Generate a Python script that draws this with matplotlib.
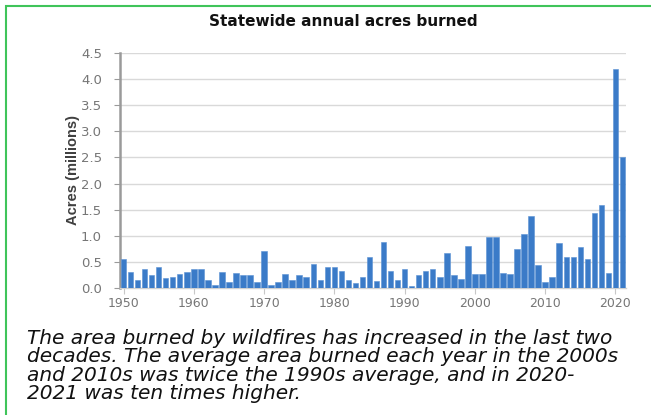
import numpy as np
import matplotlib
matplotlib.use("Agg")
import matplotlib.pyplot as plt
from matplotlib.patches import Rectangle

# annual acres burned (millions)
years = np.arange(1950, 2022)
acres = [0.55, 0.31, 0.15, 0.35, 0.24, 0.40, 0.19, 0.20, 0.26, 0.30,
         0.35, 0.36, 0.15, 0.05, 0.30, 0.10, 0.29, 0.24, 0.24, 0.10,
         0.70, 0.06, 0.10, 0.26, 0.15, 0.24, 0.20, 0.46, 0.15, 0.39,
         0.39, 0.32, 0.15, 0.09, 0.20, 0.58, 0.12, 0.88, 0.32, 0.15,
         0.36, 0.04, 0.24, 0.32, 0.35, 0.20, 0.66, 0.24, 0.16, 0.80,
         0.26, 0.26, 0.97, 0.97, 0.29, 0.26, 0.74, 1.04, 1.38, 0.44,
         0.11, 0.20, 0.85, 0.58, 0.58, 0.78, 0.55, 1.43, 1.59, 0.29,
         4.20, 2.51]
yticks = [0.0, 0.5, 1.0, 1.5, 2.0, 2.5, 3.0, 3.5, 4.0, 4.5]
xticks = [1950, 1960, 1970, 1980, 1990, 2000, 2010, 2020]

title = "Statewide annual acres burned"
ylabel = "Acres (millions)"
caption = ("The area burned by wildfires has increased in the last two\n"
           "decades. The average area burned each year in the 2000s\n"
           "and 2010s was twice the 1990s average, and in 2020-\n"
           "2021 was ten times higher.")

W, H = 651, 415
fig = plt.figure(figsize=(W / 100, H / 100), dpi=100)

# green frame around the panel
fig.patches.append(Rectangle((6 / W, -0.05), 1.2, 1 - 6 / H + 0.05,
                             transform=fig.transFigure, fill=False,
                             edgecolor="#3fc45a", linewidth=1.5))

ax = fig.add_axes([120 / W, 1 - 287.7 / H, 506 / W, 234.4 / H])
ax.bar(years, acres, width=0.78, color="#3b7bc8", edgecolor="#5a92d4", linewidth=0.4, zorder=3)

ax.set_xlim(1949.5, 2021.5)
ax.set_ylim(0, 4.5)
ax.set_yticks(yticks)
ax.set_yticklabels([f"{v:.1f}" for v in yticks])
ax.set_xticks(xticks)
ax.grid(axis="y", color="#d9d9d9", linewidth=1.0, zorder=0)

for s in ["top", "right"]:
    ax.spines[s].set_visible(False)
ax.spines["left"].set_color("#9a9a9a")
ax.spines["left"].set_linewidth(1.8)
ax.spines["bottom"].set_color("#d0d0d0")
ax.spines["bottom"].set_linewidth(1.0)
ax.tick_params(axis="y", colors="#9a9a9a", labelcolor="#767676", labelsize=9.5, length=4, pad=9)
ax.tick_params(axis="x", colors="#c8c8c8", labelcolor="#767676", labelsize=9, length=4, pad=3)

fig.text(73 / W, 1 - 170 / H, ylabel, rotation=90, ha="center", va="center",
         fontsize=10.5, fontweight="bold", color="#404040",
         family=["Liberation Sans", "DejaVu Sans"])

fig.text(343 / W, 1 - 22 / H, title, ha="center", va="center",
         fontsize=11, fontweight="bold", color="#111111",
         family=["DejaVu Sans"])

fig.text(27 / W, 1 - 329 / H, caption, ha="left", va="top",
         fontsize=14.5, style="italic", color="#111111", linespacing=0.95,
         family=["DejaVu Sans"])

fig.savefig("out.png", dpi=100)
